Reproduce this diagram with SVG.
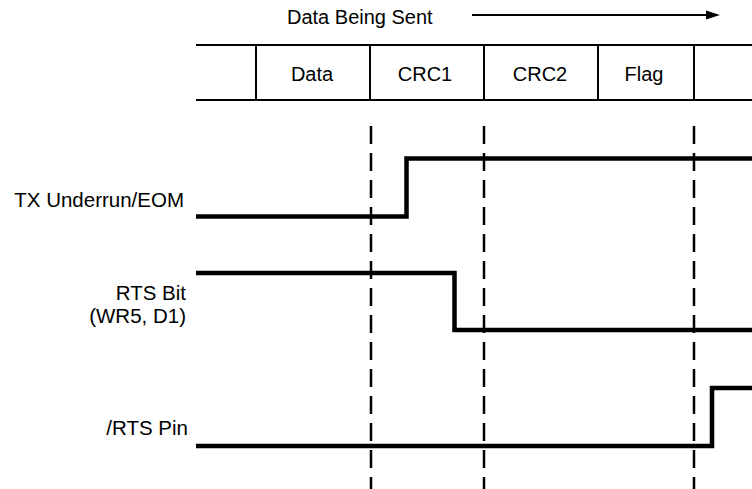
<svg xmlns="http://www.w3.org/2000/svg" width="752" height="489" viewBox="0 0 752 489">
<style>
text{font-family:"Liberation Sans",Arial,sans-serif;font-size:20px;fill:#000}
.lbl{text-anchor:end;font-size:20.5px}
.cell{text-anchor:middle}
.box{stroke:#000;stroke-width:2;fill:none}
.sig{stroke:#000;stroke-width:4.5;fill:none;stroke-linejoin:miter}
.dash{stroke:#000;stroke-width:2.5;stroke-dasharray:18 9;fill:none}
</style>
<rect width="752" height="489" fill="#fff"/>
<g id="header">
<text x="287" y="24">Data Being Sent</text>
<line x1="472" y1="15" x2="708" y2="15" stroke="#000" stroke-width="2"/>
<polygon points="706,10.5 720,15 706,19.5" fill="#000"/>
</g>
<g id="frame">
<line class="box" x1="196" y1="45" x2="752" y2="45"/>
<line class="box" x1="196" y1="100" x2="752" y2="100"/>
<line class="box" x1="256" y1="45" x2="256" y2="100"/>
<line class="box" x1="370" y1="45" x2="370" y2="100"/>
<line class="box" x1="484" y1="45" x2="484" y2="100"/>
<line class="box" x1="598" y1="45" x2="598" y2="100"/>
<line class="box" x1="694" y1="45" x2="694" y2="100"/>
<text class="cell" x="312" y="81">Data</text>
<text class="cell" x="425" y="81">CRC1</text>
<text class="cell" x="540" y="81">CRC2</text>
<text class="cell" x="644" y="81">Flag</text>
</g>
<g id="connectors">
<line class="dash" x1="371" y1="126" x2="371" y2="489"/>
<line class="dash" x1="484" y1="126" x2="484" y2="489"/>
<line class="dash" x1="694" y1="126" x2="694" y2="489"/>
</g>
<g id="tx-underrun">
<text class="lbl" x="184" y="207">TX Underrun/EOM</text>
<polyline class="sig" points="196,216.5 406.5,216.5 406.5,158.5 752,158.5"/>
</g>
<g id="rts-bit">
<text class="lbl" x="186" y="300">RTS Bit</text>
<text class="lbl" x="186" y="323">(WR5, D1)</text>
<polyline class="sig" points="196,273 454.5,273 454.5,330 752,330"/>
</g>
<g id="rts-pin">
<text class="lbl" x="188" y="435">/RTS Pin</text>
<polyline class="sig" points="196,446 712,446 712,388 752,388"/>
</g>
</svg>
